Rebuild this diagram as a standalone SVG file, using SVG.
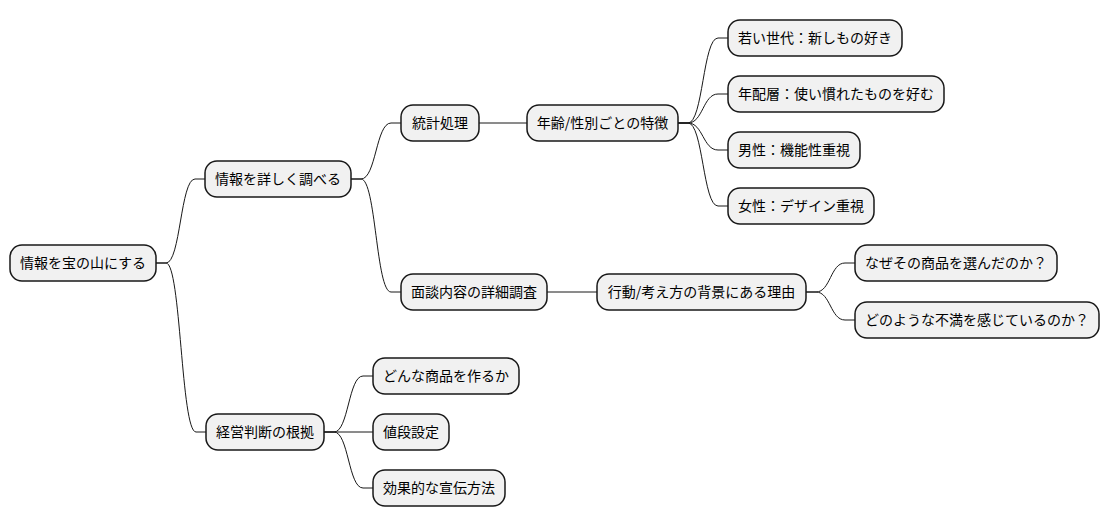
<svg xmlns="http://www.w3.org/2000/svg" width="1109" height="527" viewBox="0 0 1109 527">
<style>
.n rect{fill:#F1F1F1;stroke:#181818;stroke-width:1.5}
.n text{font-family:"Noto Sans CJK JP","Noto Sans",sans-serif;font-size:14px;fill:#000;text-anchor:middle}
.c path{fill:none;stroke:#181818;stroke-width:1}
</style>
<rect width="1109" height="527" fill="#FFFFFF"/>
<g class="c" id="connectors">
<path d="M156,263 L166,263 C180.5,263 180.5,179 195,179 L205,179"/>
<path d="M156,263 L166,263 C181,263 181,432 196,432 L206,432"/>
<path d="M351,179 L361,179 C376,179 376,123 391,123 L401,123"/>
<path d="M351,179 L361,179 C376,179 376,292 391,292 L401,292"/>
<path d="M479,123 L527,123"/>
<path d="M678,123 L688,123 C703,123 703,38 718,38 L728,38"/>
<path d="M678,123 L688,123 C703,123 703,94 718,94 L728,94"/>
<path d="M678,123 L688,123 C703,123 703,150 718,150 L728,150"/>
<path d="M678,123 L688,123 C703,123 703,206 718,206 L728,206"/>
<path d="M547,292 L597,292"/>
<path d="M806,292 L816,292 C830.5,292 830.5,263 845,263 L855,263"/>
<path d="M806,292 L816,292 C830.5,292 830.5,320 845,320 L855,320"/>
<path d="M324,432 L334,432 C348.5,432 348.5,376 363,376 L373,376"/>
<path d="M324,432 L373,432"/>
<path d="M324,432 L334,432 C348.5,432 348.5,488 363,488 L373,488"/>
</g>
<g class="n" id="root"><rect x="10" y="245" width="146" height="36" rx="12"/><text x="83" y="268">情報を宝の山にする</text></g>
<g class="n" id="a"><rect x="205" y="161" width="146" height="36" rx="12"/><text x="278" y="184">情報を詳しく調べる</text></g>
<g class="n" id="a1"><rect x="401" y="105" width="78" height="36" rx="12"/><text x="440" y="128">統計処理</text></g>
<g class="n" id="a1a"><rect x="527" y="105" width="151" height="36" rx="12"/><text x="602.5" y="128">年齢/性別ごとの特徴</text></g>
<g class="n" id="l1"><rect x="728" y="20" width="174" height="36" rx="12"/><text x="815" y="43">若い世代：新しもの好き</text></g>
<g class="n" id="l2"><rect x="728" y="76" width="216" height="36" rx="12"/><text x="836" y="99">年配層：使い慣れたものを好む</text></g>
<g class="n" id="l3"><rect x="728" y="132" width="132" height="36" rx="12"/><text x="794" y="155">男性：機能性重視</text></g>
<g class="n" id="l4"><rect x="728" y="188" width="146" height="36" rx="12"/><text x="801" y="211">女性：デザイン重視</text></g>
<g class="n" id="b"><rect x="401" y="274" width="146" height="36" rx="12"/><text x="474" y="297">面談内容の詳細調査</text></g>
<g class="n" id="b1"><rect x="597" y="274" width="209" height="36" rx="12"/><text x="701.5" y="297">行動/考え方の背景にある理由</text></g>
<g class="n" id="b1a"><rect x="855" y="245" width="202" height="36" rx="12"/><text x="956" y="268">なぜその商品を選んだのか？</text></g>
<g class="n" id="b1b"><rect x="855" y="302" width="244" height="36" rx="12"/><text x="977" y="325">どのような不満を感じているのか？</text></g>
<g class="n" id="c"><rect x="206" y="414" width="118" height="36" rx="12"/><text x="265" y="437">経営判断の根拠</text></g>
<g class="n" id="c1"><rect x="373" y="358" width="146" height="36" rx="12"/><text x="446" y="381">どんな商品を作るか</text></g>
<g class="n" id="c2"><rect x="373" y="414" width="76" height="36" rx="12"/><text x="411" y="437">値段設定</text></g>
<g class="n" id="c3"><rect x="373" y="470" width="132" height="36" rx="12"/><text x="439" y="493">効果的な宣伝方法</text></g>
</svg>
